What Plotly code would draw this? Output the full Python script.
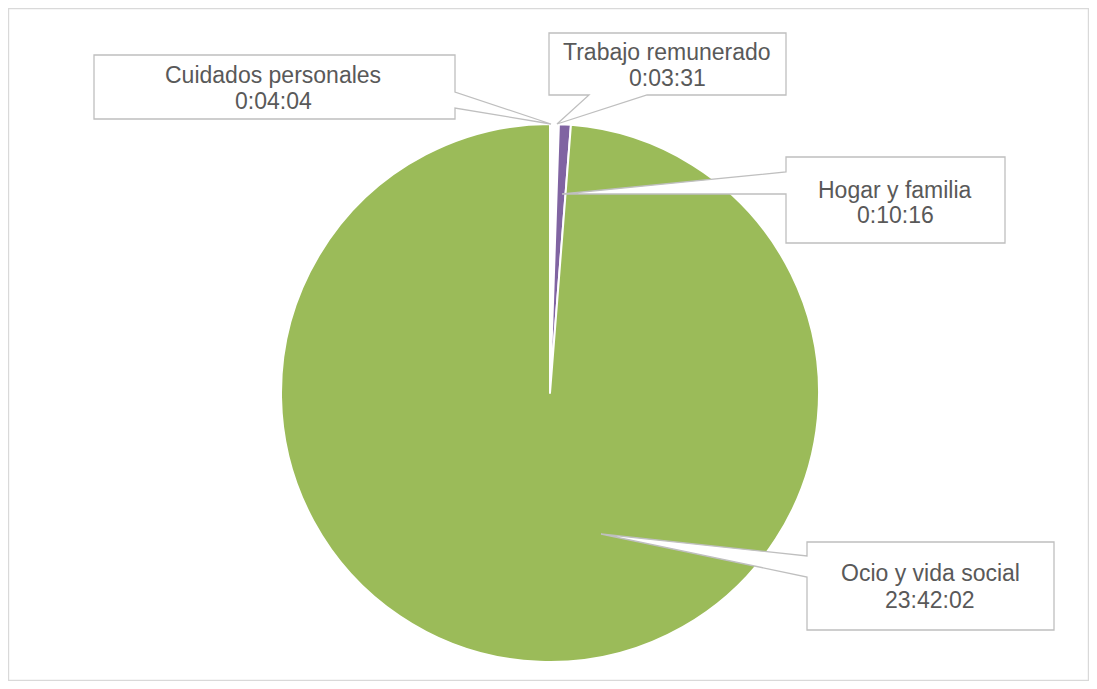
import plotly.graph_objects as go

W, H = 1097, 689
OFF = 8  # default page body margin
FW, FH = W - 2 * OFF, H - 2 * OFF

categories = ["Cuidados personales", "Trabajo remunerado", "Hogar y familia", "Ocio y vida social"]
value_labels = ["0:04:04", "0:03:31", "0:10:16", "23:42:02"]
seconds = [244, 211, 616, 85322]
colors = ["#FFFFFF", "#FFFFFF", "#8064A2", "#9BBB59"]

def px(x):
    return (x - OFF) / FW

def py(y):
    return 1 - (y - OFF) / FH

cx, cy, r = 550, 393, 269

fig = go.Figure(go.Pie(
    labels=categories,
    values=seconds,
    sort=False,
    direction="clockwise",
    rotation=0,
    marker=dict(colors=colors, line=dict(color="#FFFFFF", width=2)),
    textinfo="none",
    hoverinfo="label+value",
    showlegend=False,
    domain=dict(x=[px(cx - r), px(cx + r)], y=[py(cy + r), py(cy - r)]),
))

callouts = [
    dict(box=(94, 55, 455, 119), side="right", base=(92, 108), tip=(551, 124),
         tx=273, ty=(75, 101)),
    dict(box=(549, 33, 786, 95), side="bottom", base=(589, 647), tip=(557, 124),
         tx=667, ty=(52, 78)),
    dict(box=(786, 157, 1005, 243), side="left", base=(172, 194), tip=(562, 194),
         tx=895, ty=(190, 215)),
    dict(box=(807, 542, 1054, 630), side="left", base=(556, 577), tip=(601, 534),
         tx=930, ty=(573, 600)),
]

shapes = [dict(type="rect", xref="paper", yref="paper",
               x0=px(8.6), y0=py(680.4), x1=px(1088.4), y1=py(8.6),
               line=dict(color="#D9D9D9", width=1.2), fillcolor="rgba(0,0,0,0)", layer="below")]

annotations = []
for c, name, val in zip(callouts, categories, value_labels):
    x0, y0, x1, y1 = c["box"]
    tx, ty = c["tip"]
    b1, b2 = c["base"]
    if c["side"] == "right":
        pts = [(x0, y0), (x1, y0), (x1, b1), (tx, ty), (x1, b2), (x1, y1), (x0, y1)]
    elif c["side"] == "left":
        pts = [(x0, y0), (x1, y0), (x1, y1), (x0, y1), (x0, b2), (tx, ty), (x0, b1)]
    else:  # bottom
        pts = [(x0, y0), (x1, y0), (x1, y1), (b2, y1), (tx, ty), (b1, y1), (x0, y1)]
    path = "M " + " L ".join(f"{px(a):.5f},{py(b):.5f}" for a, b in pts) + " Z"
    shapes.append(dict(type="path", xref="paper", yref="paper", path=path,
                       fillcolor="#FFFFFF", line=dict(color="#BFBFBF", width=1.3)))
    for text, yy in zip((name, val), c["ty"]):
        annotations.append(dict(x=px(c["tx"]), y=py(yy), xref="paper", yref="paper",
                                text=text, showarrow=False, xanchor="center", yanchor="middle",
                                font=dict(family="Liberation Sans, Arial, sans-serif",
                                          size=23, color="#595959")))

fig.update_layout(
    width=FW, height=FH,
    margin=dict(l=0, r=0, t=0, b=0),
    paper_bgcolor="#FFFFFF",
    plot_bgcolor="#FFFFFF",
    shapes=shapes,
    annotations=annotations,
)

fig.write_html("out.html")
